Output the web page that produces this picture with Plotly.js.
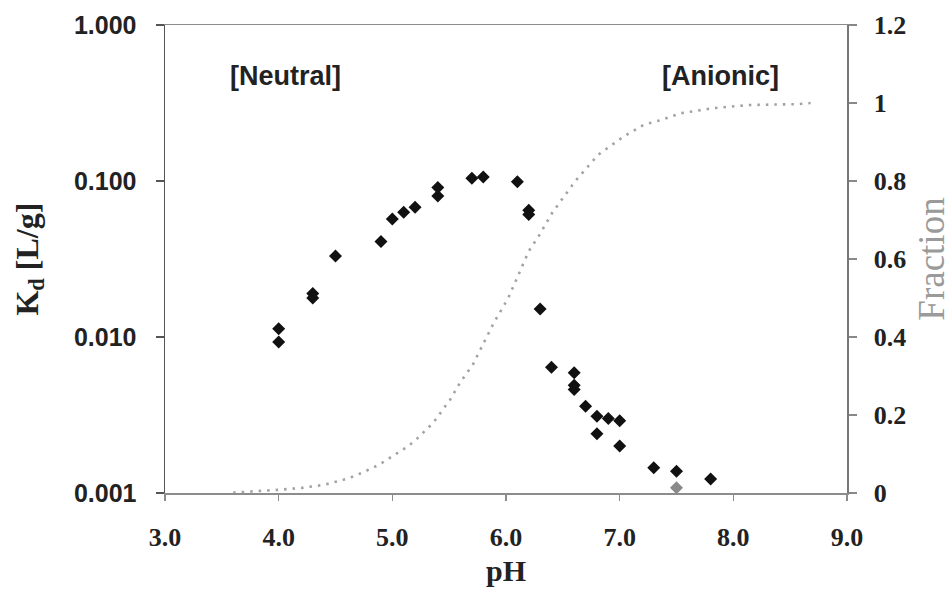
<!DOCTYPE html>
<html>
<head>
<meta charset="utf-8">
<script src="https://cdn.plot.ly/plotly-3.0.1.min.js"></script>
<style>
  html, body { margin: 0; padding: 0; background: #fff; }
  #chart { width: 952px; height: 595px; }
</style>
</head>
<body>
<div id="chart"></div>
<script>
// Measured sorption coefficients Kd (L/g) against pH
const phKd = [4.0, 4.0, 4.3, 4.3, 4.5, 4.9, 5.0, 5.1, 5.2, 5.4, 5.4, 5.7, 5.8, 6.1, 6.2, 6.2,
              6.3, 6.4, 6.6, 6.6, 6.6, 6.7, 6.8, 6.8, 6.9, 7.0, 7.0, 7.3, 7.5, 7.8];
const kd = [0.0113, 0.0093, 0.0190, 0.0178, 0.033, 0.041, 0.057, 0.063, 0.068, 0.091, 0.080,
            0.104, 0.106, 0.099, 0.065, 0.061,
            0.0151, 0.0064, 0.0059, 0.0049, 0.0046, 0.0036, 0.0031, 0.0024, 0.0030,
            0.0029, 0.0020, 0.00145, 0.00138, 0.00123];

// Point drawn in grey at pH 7.5
const phKdGrey = [7.5];
const kdGrey = [0.00108];

// Anionic fraction curve (right axis)
const phFrac = [3.6, 3.82, 3.99, 4.20, 4.40, 4.61, 4.75, 4.88, 5.14, 5.22, 5.36, 5.51, 5.60,
                5.71, 5.81, 5.89, 6.02, 6.11, 6.20, 6.29, 6.41, 6.51, 6.61, 6.81, 7.03,
                7.21, 7.36, 7.54, 7.83, 8.15, 8.57, 8.68];
const frac = [0.001, 0.004, 0.008, 0.013, 0.021, 0.037, 0.054, 0.072, 0.12, 0.14, 0.18, 0.24, 0.285,
              0.33, 0.39, 0.435, 0.50, 0.56, 0.62, 0.66, 0.72, 0.76, 0.80, 0.867, 0.913,
              0.944, 0.956, 0.974, 0.987, 0.995, 0.997, 1.0];

// Tick labels
const kdTickVals = [0.001, 0.01, 0.1, 1];
const kdTickText = ['0.001', '0.010', '0.100', '1.000'];

// Region labels
const regionText = ['[Neutral]', '[Anionic]'];
const regionPh = [4.06, 7.89];

const traces = [
  {
    x: phFrac, y: frac, yaxis: 'y2', type: 'scatter', mode: 'lines',
    line: { color: '#a2a2a2', width: 2.6, dash: '2.5px,6px' },
    hoverinfo: 'skip', showlegend: false
  },
  {
    x: phKd, y: kd, type: 'scatter', mode: 'markers',
    marker: { symbol: 'diamond', size: 10, color: '#111' },
    showlegend: false
  },
  {
    x: phKdGrey, y: kdGrey, type: 'scatter', mode: 'markers',
    marker: { symbol: 'diamond', size: 10, color: '#8a8a8a' },
    showlegend: false
  }
];

const serif = 'Liberation Serif, Times New Roman, serif';
const sans = 'Liberation Sans, Arial, sans-serif';

const annotations = regionText.map((t, i) => ({
  x: regionPh[i], y: 0.89, xref: 'x', yref: 'paper', yanchor: 'middle', xanchor: 'center',
  text: '<b>' + t + '</b>', showarrow: false,
  font: { family: sans, size: 27, color: '#222' }
}));

// Left axis title, placed by hand closer to the page edge
annotations.push({
  x: -0.2, y: 0.5, xref: 'paper', yref: 'paper', xanchor: 'center', yanchor: 'middle',
  textangle: -90, showarrow: false,
  text: '<b>K<sub>d</sub> [L/g]</b>',
  font: { family: serif, size: 32, color: '#222' }
});

const layout = {
  width: 952, height: 595,
  margin: { l: 165, r: 105, t: 25, b: 102 },
  paper_bgcolor: '#fff', plot_bgcolor: '#fff',
  showlegend: false,
  xaxis: {
    range: [3, 9], dtick: 1, tick0: 3, tickformat: '.1f',
    showgrid: false, zeroline: false,
    showline: true, linecolor: '#8c8c8c', linewidth: 1.5,
    mirror: true,
    ticks: 'outside', ticklen: 6, tickcolor: '#8c8c8c', tickwidth: 1.5,
    ticklabelstandoff: 14,
    tickfont: { family: serif, size: 26, color: '#222', weight: 'bold' },
    title: { text: '<b>pH</b>', font: { family: serif, size: 30, color: '#222' }, standoff: 9 }
  },
  yaxis: {
    type: 'log', range: [-3, 0],
    tickvals: kdTickVals, ticktext: kdTickText,
    showgrid: false, zeroline: false,
    showline: true, linecolor: '#555', linewidth: 1.5,
    ticks: 'outside', ticklen: 8, tickcolor: '#555', tickwidth: 1.5,
    ticklabelstandoff: 14,
    tickfont: { family: sans, size: 25, color: '#222', weight: 'bold' }
  },
  yaxis2: {
    overlaying: 'y', side: 'right',
    range: [0, 1.2], dtick: 0.2, tick0: 0,
    showgrid: false, zeroline: false,
    showline: true, linecolor: '#777', linewidth: 1.5,
    ticks: 'outside', ticklen: 8, tickcolor: '#888', tickwidth: 1.2,
    ticklabelstandoff: 12,
    tickfont: { family: serif, size: 26, color: '#222', weight: 'bold' },
    title: { text: 'Fraction', font: { family: serif, size: 37, color: '#9a9a9a' }, standoff: 16 }
  },
  annotations: annotations
};

Plotly.newPlot('chart', traces, layout, { displayModeBar: false, staticPlot: true });
</script>
</body>
</html>
